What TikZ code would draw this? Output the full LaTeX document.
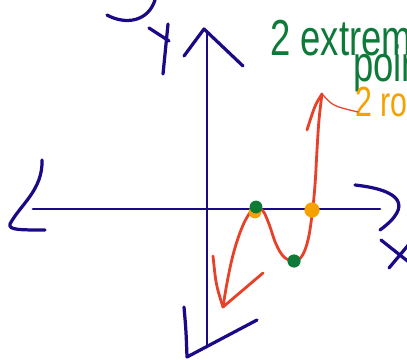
\documentclass[tikz,border=0pt]{standalone}
\usepackage{fontspec}
\setmainfont{Liberation Sans}
\usetikzlibrary{positioning}
\definecolor{inkblue}{HTML}{1B0A85}
\definecolor{inkred}{HTML}{E8412A}
\definecolor{inkgreen}{HTML}{0E7A3A}
\definecolor{inkorange}{HTML}{F5A200}

\begin{document}
\begin{tikzpicture}[x=0.025cm, y=-0.025cm, line cap=round, line join=round]
\useasboundingbox (0,0) rectangle (407,360);
\clip (0,0) rectangle (407,360);
% axes
\draw[inkblue, line width=2pt] (33,209) -- (380,209);
\draw[inkblue, line width=2pt] (207,31) -- (207,347);
\draw[inkblue, line width=2.3pt] (184,56) -- (204,29) -- (243,66);
\draw[inkblue, line width=2.3pt] (42,160) .. controls (43,190) and (20,205) .. (10,224) .. controls (8,230) and (20,230) .. (45,230);
\draw[inkblue, line width=2.3pt] (355,185) .. controls (400,190) and (414,205) .. (380,230);
\draw[inkblue, line width=2.3pt] (184,307) .. controls (186,330) .. (187,357) -- (257,320);
\draw[inkblue, line width=2.3pt] (107,15) .. controls (125,25) and (148,22) .. (155,0);
% axis labels
\draw[inkblue, line width=2.3pt] (149,28) -- (169,41);
\draw[inkblue, line width=2.3pt] (168,24) -- (163,74);
\draw[inkblue, line width=2.3pt] (381,240) -- (410,263);
\draw[inkblue, line width=2.3pt] (389,268) -- (410,243);
% cubic
\draw[inkred, line width=2pt] plot[smooth, tension=0.6] coordinates {(223,307) (227,283) (233,255) (241,230) (249,214) (256,208) (263,211) (269,224) (276,244) (284,257) (294,261) (302,256) (308,240) (312,215) (315,185) (317,150) (319,120) (322,94)};
\coordinate (curvetop) at (323,95);
\draw[inkred, line width=2pt] (322,94) .. controls (315,105) .. (307,130);
\draw[inkred, line width=2pt] (213,256) .. controls (216,285) .. (223,307) -- (263,273);
% points
\node[circle, fill=inkorange, inner sep=0pt, minimum size=0.32cm] (rootA) at (255,212) {};
\node[circle, fill=inkgreen, inner sep=0pt, minimum size=0.32cm] (maxpt) at (256,207) {};
\node[circle, fill=inkorange, inner sep=0pt, minimum size=0.38cm] (rootB) at (312,210) {};
\node[circle, fill=inkgreen, inner sep=0pt, minimum size=0.33cm] (minpt) at (294,261) {};
% labels
\node[anchor=base west, inner sep=0pt, xscale=0.72, text=inkgreen, font=\fontsize{36}{36}\selectfont] (extrema) at (270,56) {2 extrema};
\node[anchor=base west, inner sep=0pt, xscale=0.72, text=inkgreen, font=\fontsize{36}{36}\selectfont] (points) at (353,82) {points};
\node[anchor=base west, inner sep=0pt, xscale=0.72, text=inkorange, font=\fontsize{30}{30}\selectfont] (roots) at (355,117) {2 roots};
\draw[inkred, line width=0.9pt] (curvetop) .. controls (333,106) .. ([shift={(3,-5)}]roots.base west);
\end{tikzpicture}
\end{document}
